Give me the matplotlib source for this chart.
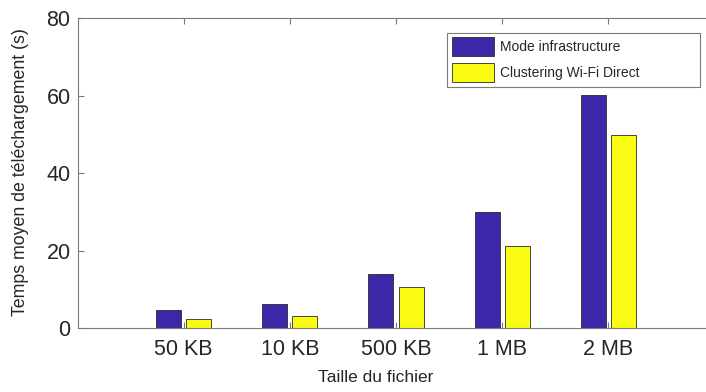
import numpy as np
import matplotlib
matplotlib.use("Agg")
import matplotlib.pyplot as plt

tailles = ["50 KB", "10 KB", "500 KB", "1 MB", "2 MB"]
infra = [4.6, 6.4, 13.9, 29.9, 60.1]
wifi_direct = [2.5, 3.1, 10.6, 21.2, 49.8]
serie_labels = ["Mode infrastructure", "Clustering Wi-Fi Direct"]

plt.rcParams["font.family"] = ["Liberation Sans", "DejaVu Sans"]

gris_axe = "#7a7a7a"
gris_txt = "#262626"

fig = plt.figure(figsize=(7.06, 3.92), dpi=100)
# l'axe depasse a droite de l'image (comme dans l'original)
ax = fig.add_axes([77.5 / 706, 1 - 328.3 / 392, 637 / 706, 310 / 392])

x = np.arange(1, len(tailles) + 1)
largeur = 0.235
ax.bar(x - 0.142, infra, largeur, color="#3E26A8", edgecolor="#2a2a2a",
       linewidth=0.6, label=serie_labels[0], zorder=2)
ax.bar(x + 0.142, wifi_direct, largeur, color="#F9FB15", edgecolor="#2a2a2a",
       linewidth=0.6, label=serie_labels[1], zorder=2)

ax.set_xlim(0, 6)
ax.set_ylim(0, 80)
ax.set_xticks(x)
ax.set_xticklabels(tailles)
ax.set_yticks([0, 20, 40, 60, 80])

for s in ax.spines.values():
    s.set_color(gris_axe)
    s.set_linewidth(0.8)
ax.spines["right"].set_visible(False)

ax.tick_params(axis="both", direction="in", length=4.5, width=0.8,
               color=gris_axe, labelcolor=gris_txt, labelsize=15.5,
               top=True, right=False)
ax.tick_params(axis="x", pad=8)
ax.tick_params(axis="y", pad=5)

ax.set_xlabel("Taille du fichier", fontsize=12.5, color=gris_txt)
ax.set_ylabel("Temps moyen de téléchargement (s)", fontsize=12.8, color=gris_txt)
ax.xaxis.set_label_coords((376 - 77.5) / 637, (328.3 - 370) / 310)
ax.yaxis.set_label_coords((29 - 77.5) / 637, 0.505)

leg = ax.legend(loc="upper left",
                bbox_to_anchor=(447 / 706, 1 - 88.5 / 392, 253 / 706, 56 / 392),
                bbox_transform=fig.transFigure, mode="expand",
                borderaxespad=0, fancybox=False, framealpha=1,
                edgecolor=gris_axe, fontsize=10,
                handlelength=3.05, handleheight=1.67, handletextpad=0.45,
                labelspacing=0.55, borderpad=0.35)
leg.get_frame().set_linewidth(0.8)
for t in leg.get_texts():
    t.set_color(gris_txt)

fig.savefig("out.png", dpi=100)
